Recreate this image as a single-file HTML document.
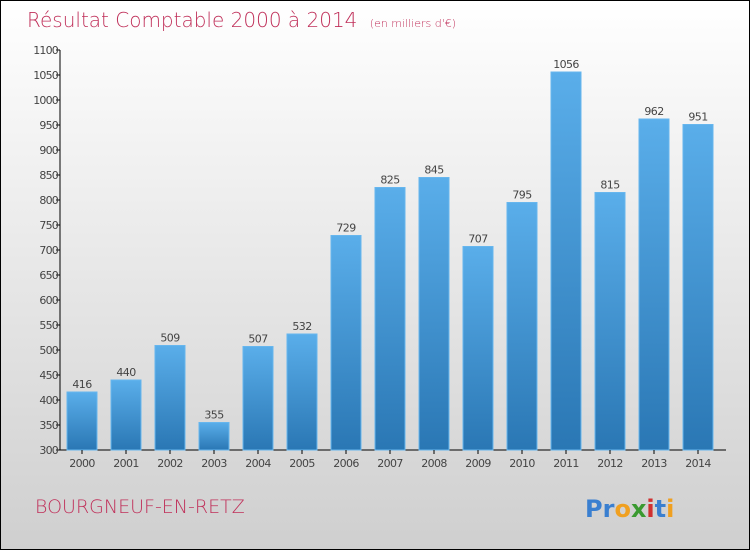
<!DOCTYPE html>
<html><head><meta charset="utf-8"><style>
body{margin:0}
#c{position:relative;width:748px;height:548px;border:1px solid #000;background:linear-gradient(#ffffff,#cfcfcf);overflow:hidden;font-family:"DejaVu Sans","Liberation Sans",sans-serif}
</style></head><body>
<div id="c">
<svg id="s" width="748" height="548">
<defs><linearGradient id="g" x1="0" y1="0" x2="0" y2="1"><stop offset="0" stop-color="#5aaeea"/><stop offset="1" stop-color="#2a77b4"/></linearGradient></defs>
<text x="26" y="26" font-size="20" fill="#c0305a" font-family="DejaVu Sans, sans-serif" font-weight="200">Résultat Comptable 2000 à 2014 <tspan font-size="11" dx="6">(en milliers d'€)</tspan></text>
<text x="34" y="512" font-size="19" fill="#c0305a" font-weight="200">BOURGNEUF-EN-RETZ</text>
<text x="584" y="516" font-size="24" font-weight="bold"><tspan fill="#3a7fd0">Pr</tspan><tspan fill="#f0a020">o</tspan><tspan fill="#3a9a30">x</tspan><tspan fill="#d03030">i</tspan><tspan fill="#3a7fd0">t</tspan><tspan fill="#f0a020">i</tspan></text>
<g id="plot"></g>
</svg></div>
<script>
const years=["2000","2001","2002","2003","2004","2005","2006","2007","2008","2009","2010","2011","2012","2013","2014"];
const values=[416,440,509,355,507,532,729,825,845,707,795,1056,815,962,951];
const yTicks=[300,350,400,450,500,550,600,650,700,750,800,850,900,950,1000,1050,1100];
const ns="http://www.w3.org/2000/svg",P=document.getElementById('plot');
const y=v=>449-(v-300)*0.5, x=i=>81+i*44;
function mk(t,a){const e=document.createElementNS(ns,t);for(const k in a)e.setAttribute(k,a[k]);P.appendChild(e);return e;}
let e=mk('line',{x1:59,y1:49,x2:59,y2:449,stroke:'#000'});

e=mk('line',{x1:59,y1:449,x2:725,y2:449,stroke:'#000'});

yTicks.forEach(v=>{
 let t=mk('line',{x1:55,x2:59,y1:y(v),y2:y(v),stroke:'#000'});
 
 let l=mk('text',{x:57,y:y(v)+4,'text-anchor':'end','font-size':11,fill:'#444','letter-spacing':'-0.8'});
 l.textContent=v;
 
});
values.forEach((v,i)=>{
 let b=mk('rect',{x:x(i)-15,y:y(v),width:30,height:449-y(v),fill:'url(#g)',stroke:'#66b6ee','stroke-width':1});
 
 let vl=mk('text',{x:x(i),y:y(v)-4,'text-anchor':'middle','font-size':11,fill:'#444','letter-spacing':'-0.6'});
 vl.textContent=v;
 
 let t=mk('line',{x1:x(i),x2:x(i),y1:449,y2:453,stroke:'#000'});
 
 let xl=mk('text',{x:x(i),y:466,'text-anchor':'middle','font-size':11,fill:'#444','letter-spacing':'-0.6'});
 xl.textContent=years[i];
 
});
</script>
</body></html>
